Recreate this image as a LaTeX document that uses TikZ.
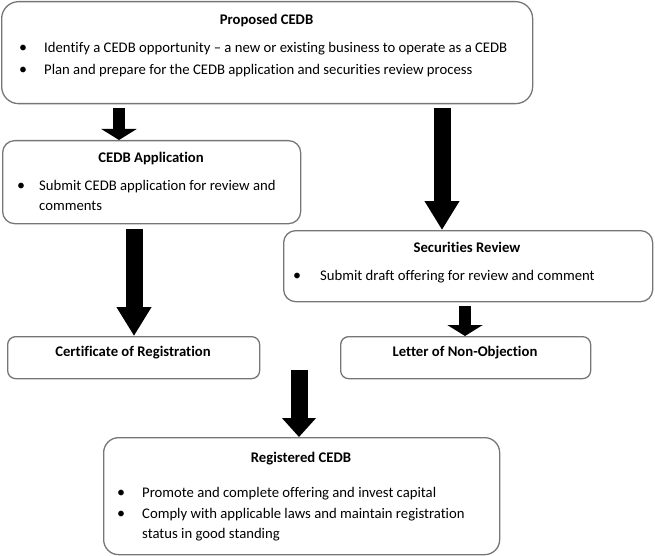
\documentclass[tikz,border=0pt]{standalone}
\usepackage{fontspec}
\setmainfont{Carlito}[Ligatures=NoCommon]
\usetikzlibrary{arrows.meta}
\definecolor{boxgray}{HTML}{767676}
\begin{document}
\begin{tikzpicture}[x=1pt,y=-1pt,
  box/.style={draw=boxgray, line width=1.3pt, fill=white, inner sep=0pt, anchor=north west},
  ttl/.style={font=\fontsize{14.7}{18}\selectfont\bfseries, inner sep=0pt, anchor=base},
  txt/.style={font=\fontsize{14.7}{20}\selectfont, inner sep=0pt, anchor=base west},
  bul/.style={font=\fontsize{16}{18}\selectfont, inner sep=0pt, anchor=base},
  longarrow/.style={line width=17pt, -{Triangle[width=33pt,length=29pt]}},
  shortarrow/.style={line width=12pt, -{Triangle[width=35pt,length=11pt]}},
  midarrow/.style={line width=17pt, -{Triangle[width=33pt,length=19pt]}},
]
\useasboundingbox (0,0) rectangle (655,556);

% boxes
\node[box, rounded corners=17pt, minimum width=531pt, minimum height=102pt] (p1) at (1,1) {};
\node[box, rounded corners=12pt, minimum width=298pt, minimum height=83pt] (p2) at (2,140) {};
\node[box, rounded corners=12pt, minimum width=369pt, minimum height=71pt] (p3) at (283,230) {};
\node[box, rounded corners=8pt, minimum width=252pt, minimum height=42pt] (p4) at (7,336) {};
\node[box, rounded corners=8pt, minimum width=250pt, minimum height=42pt] (p5) at (340,336) {};
\node[box, rounded corners=15pt, minimum width=396pt, minimum height=117pt] (p6) at (103,437) {};

% Proposed CEDB
\node[ttl] (t1) at (266.5,25) {Proposed CEDB};
\node[bul] (b11) at (23,53) {\textbullet};
\node[txt] (l11) at (44,53) {Identify a CEDB opportunity – a new or existing business to operate as a CEDB};
\node[bul] (b12) at (23,75) {\textbullet};
\node[txt] (l12) at (44,75) {Plan and prepare for the CEDB application and securities review process};

% CEDB Application
\node[ttl] (t2) at (151,163) {CEDB Application};
\node[bul] (b21) at (21,190) {\textbullet};
\node[txt] (l21) at (39,190) {Submit CEDB application for review and};
\node[txt] (l22) at (39,210) {comments};

% Securities Review
\node[ttl] (t3) at (467,252) {Securities Review};
\node[bul] (b31) at (297,280) {\textbullet};
\node[txt] (l31) at (320,280) {Submit draft offering for review and comment};

% Certificate / Letter
\node[ttl] (t4) at (133,356) {Certificate of Registration};
\node[ttl] (t5) at (465,356) {Letter of Non-Objection};

% Registered CEDB
\node[ttl] (t6) at (301,462) {Registered CEDB};
\node[bul] (b61) at (121,497) {\textbullet};
\node[txt] (l61) at (142,497) {Promote and complete offering and invest capital};
\node[bul] (b62) at (121,518) {\textbullet};
\node[txt] (l62) at (142,518) {Comply with applicable laws and maintain registration};
\node[txt] (l63) at (142,538) {status in good standing};

% arrows
\coordinate (a1) at (119,108);
\coordinate (a2) at (442,108);
\coordinate (a3) at (134,229);
\coordinate (a4) at (465,306);
\coordinate (a5) at (299,370);
\draw[shortarrow] (a1) -- (a1 |- p2.north);
\draw[longarrow] (a2) -- (a2 |- p3.north);
\draw[longarrow] (a3) -- (a3 |- p4.north);
\draw[shortarrow] (a4) -- (a4 |- p5.north);
\draw[midarrow] (a5) -- (a5 |- p6.north);
\end{tikzpicture}
\end{document}
